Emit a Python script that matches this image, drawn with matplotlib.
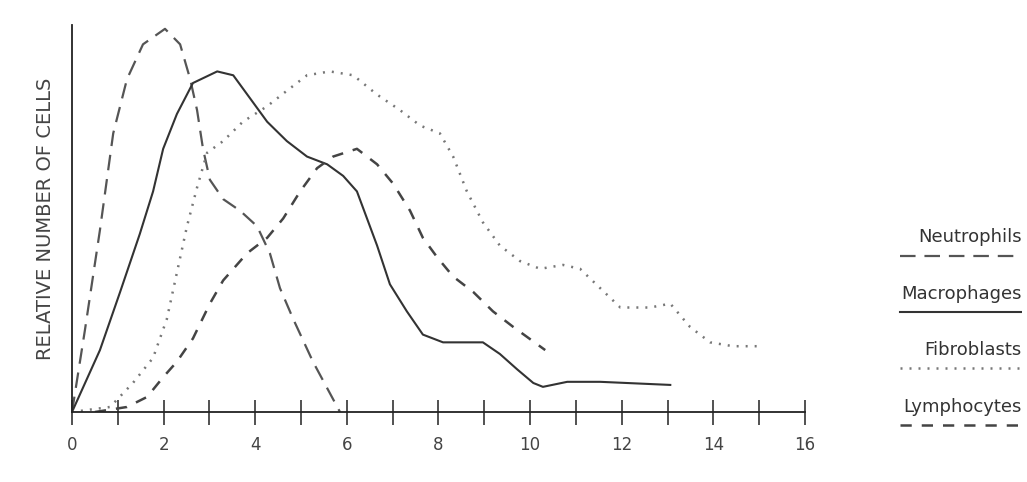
import matplotlib
matplotlib.use("Agg")
import matplotlib.pyplot as plt

plt.rcParams["font.family"] = ["DejaVu Sans"]

# Time (days) and relative number of cells
neut_x = [0, 0.28, 0.61, 0.9, 1.2, 1.55, 2.03, 2.36, 2.58, 2.73, 2.86, 3.01, 3.30,
          3.67, 4.04, 4.32, 4.54, 4.83, 5.26, 5.85]
neut_y = [0, 21, 47, 72, 86, 95, 99, 95, 86, 78, 68, 60, 55,
          52, 48, 41, 32, 24, 13, 0]

macro_x = [0, 0.61, 1.05, 1.48, 1.77, 1.99, 2.29, 2.64, 3.17, 3.52, 3.89, 4.26, 4.69,
           5.13, 5.57, 5.92, 6.22, 6.44, 6.66, 6.94, 7.31, 7.66, 8.10, 8.97, 9.34,
           9.72, 10.07, 10.28, 10.81, 11.53, 13.06]
macro_y = [0, 16, 31, 46, 57, 68, 77, 85, 88, 87, 81, 75, 70,
           66, 64, 61, 57, 50, 43, 33, 26, 20, 18, 18, 15,
           11, 7.5, 6.5, 7.8, 7.8, 7]

fibro_x = [0, 0.83, 1.33, 1.77, 2.07, 2.29, 2.51, 2.73, 2.95, 3.30, 3.73, 4.26, 4.69,
           5.13, 5.63, 6.14, 6.66, 7.16, 7.60, 8.03, 8.32, 8.62, 8.97, 9.34, 9.78,
           10.22, 10.72, 11.09, 11.53, 11.97, 12.62, 13.06, 13.49, 13.93, 14.43, 15.02]
fibro_y = [0, 1.3, 7.5, 14, 24, 36, 48, 58, 67, 70, 75, 79, 83,
           87, 88, 87, 82, 78, 74, 72, 66, 57, 49, 43, 39,
           37, 38, 37, 32, 27, 27, 28, 22, 18, 17, 17]

lymph_x = [0.5, 1.2, 1.64, 1.99, 2.29, 2.64, 3.01, 3.30, 3.82, 4.26, 4.61, 4.98, 5.35,
           5.70, 6.22, 6.66, 7.01, 7.38, 7.66, 7.97, 8.32, 8.76, 9.19, 9.63, 10.33]
lymph_y = [0, 1.3, 3.9, 9, 13, 19, 28, 34, 41, 45, 50, 57, 63,
           66, 68, 64, 59, 52, 45, 40, 35, 31, 26, 22, 16]

names = ["Neutrophils", "Macrophages", "Fibroblasts", "Lymphocytes"]
styles = [
    dict(color="#555555", lw=1.6, dashes=(7, 4)),
    dict(color="#333333", lw=1.5, linestyle="-"),
    dict(color="#777777", lw=1.8, dashes=(0.8, 2.8)),
    dict(color="#444444", lw=1.8, dashes=(4.5, 4)),
]
series = [(neut_x, neut_y), (macro_x, macro_y), (fibro_x, fibro_y), (lymph_x, lymph_y)]

fig = plt.figure(figsize=(10.27, 4.82), dpi=100)
ax = fig.add_axes([0.0701, 0.1452, 0.7137, 0.803])

for (x, y), st in zip(series, styles):
    ax.plot(x, y, **st)

ax.set_xlim(0, 16)
ax.set_ylim(0, 100)
ax.spines["top"].set_visible(False)
ax.spines["right"].set_visible(False)
ax.spines["left"].set_color("#222222")
ax.spines["bottom"].set_color("#222222")
ax.spines["left"].set_linewidth(1.3)
ax.spines["bottom"].set_linewidth(1.3)
ax.set_yticks([])
ax.set_xticks(range(0, 17, 2))
ax.set_xticks(range(1, 17, 2), minor=True)
ax.tick_params(axis="x", which="both", direction="inout", length=18, width=1.2,
               color="#333333", labelcolor="#444444", labelsize=12, pad=8)
ax.set_ylabel("RELATIVE NUMBER OF CELLS", fontsize=14, color="#444444", labelpad=12)

# legend: label with a line sample underneath
leg = fig.add_axes([0.86, 0.09, 0.135, 0.46])
leg.set_xlim(0, 1)
leg.set_ylim(0, 4)
leg.axis("off")
for i, (name, st) in enumerate(zip(names, styles)):
    yy = 3.3 - i * 1.017
    leg.text(1.0, yy + 0.33, name, ha="right", va="center", fontsize=13, color="#333333")
    leg.plot([0.12, 1.0], [yy, yy], **st)

fig.savefig("out.png", dpi=100)
